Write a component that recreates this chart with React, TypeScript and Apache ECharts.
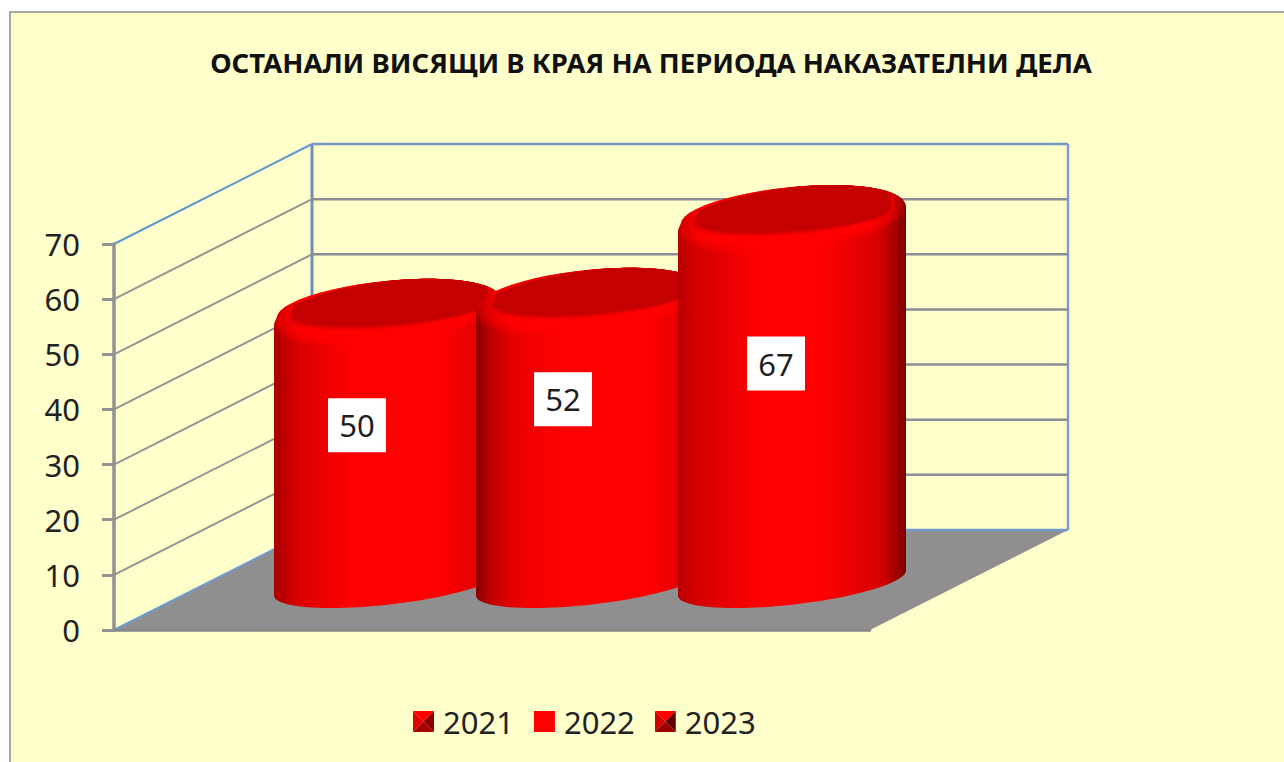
import React, { useEffect, useRef } from "react";
import * as echarts from "echarts";

const chartTitle = "ОСТАНАЛИ ВИСЯЩИ В КРАЯ НА ПЕРИОДА НАКАЗАТЕЛНИ ДЕЛА";
const categories = ["Наказателни дела"];
const years = ["2021", "2022", "2023"];
const values = [50, 52, 67];
const yTicks = [0, 10, 20, 30, 40, 50, 60, 70];

const FONT = "'Noto Sans', sans-serif";
const DEPTH_X = 198;
const DEPTH_Y = 100;
const SPACING_RATIO = 0.2672;
const MID_X = 98;
const MID_Y = 41;
const HALF_W = 114;
const labelDx = [-31, -27, -16];
const labelDy = [112, 97, 144];

const bodyStops = [
  [[0, "#a80000"], [0.1, "#d80000"], [0.34, "#ff0000"], [0.72, "#ff0000"], [0.92, "#e00000"], [1, "#c80000"]],
  [[0, "#8c0000"], [0.07, "#c00000"], [0.17, "#e80000"], [0.38, "#ff0000"], [0.75, "#ff0000"], [1, "#d00000"]],
  [[0, "#b80000"], [0.08, "#d40000"], [0.36, "#ff0000"], [0.62, "#ff0000"], [0.88, "#d80000"], [0.96, "#a00000"], [1, "#780000"]],
];
const capStops = [
  [[0, "#d80000"], [0.08, "#f80000"], [0.15, "#ff0000"], [0.85, "#ff0000"], [0.93, "#e80000"], [1, "#d00000"]],
  [[0, "#c80000"], [0.08, "#f00000"], [0.15, "#ff0000"], [0.85, "#ff0000"], [0.93, "#e80000"], [1, "#d00000"]],
  [[0, "#d80000"], [0.08, "#f80000"], [0.15, "#ff0000"], [0.85, "#ff0000"], [0.94, "#e00000"], [1, "#a00000"]],
];
const capLayers = [
  [34.5, 0.3],
  [33, 0.4],
  [31.5, 0.5],
  [30, 0.7],
  [28.5, 1],
];

const linear = (stops: any[]) => ({
  type: "linear", x: 0, y: 0, x2: 1, y2: 0, global: false,
  colorStops: stops.map(([offset, color]) => ({ offset, color })),
});

const pyramid = (a: string, b: string, c: string, d: string) =>
  "image://data:image/svg+xml;utf8," + encodeURIComponent(
    `<svg xmlns="http://www.w3.org/2000/svg" width="21" height="21"><polygon points="0,0 21,0 10.5,10.5" fill="${a}"/><polygon points="0,0 0,21 10.5,10.5" fill="${b}"/><polygon points="21,0 21,21 10.5,10.5" fill="${c}"/><polygon points="0,21 21,21 10.5,10.5" fill="${d}"/></svg>`
  );
const legendIcons = [
  pyramid("#ff0000", "#e00000", "#8c0000", "#a80000"),
  "rect",
  pyramid("#ff0000", "#d00000", "#600000", "#980000"),
];

function arc(cx: number, cy: number, X: number, Y: number, s: number, from: number, to: number, n = 48) {
  const phi = Math.asin(-s);
  const out: number[][] = [];
  for (let i = 0; i <= n; i++) {
    const t = from + ((to - from) * i) / n;
    out.push([cx + X * Math.cos(t), cy + Y * Math.sin(t + phi)]);
  }
  return out;
}

function wallItem(params: any, api: any) {
  const v = api.value(0);
  const [, y] = api.coord([0, v]);
  const cs = params.coordSys;
  const x0 = cs.x;
  const bx = x0 + DEPTH_X;
  const by = y - DEPTH_Y;
  const isTop = v === yTicks[yTicks.length - 1];
  const isBase = v === yTicks[0];
  const children: any[] = [];
  if (isBase) {
    children.push({
      type: "polygon",
      shape: { points: [[x0, y], [x0 + cs.width, y], [bx + cs.width, by], [bx, by]] },
      style: { fill: "#8f8f8f" },
    });
    const topY = cs.y - DEPTH_Y;
    children.push({ type: "line", shape: { x1: bx, y1: topY, x2: bx, y2: by }, style: { stroke: "#6f8fb8", lineWidth: 3 } });
    children.push({ type: "line", shape: { x1: bx + cs.width, y1: topY, x2: bx + cs.width, y2: by }, style: { stroke: "#7f9fca", lineWidth: 2.5 } });
  }
  children.push({
    type: "line",
    shape: { x1: x0, y1: y, x2: bx, y2: by },
    style: { stroke: isTop ? "#5f97d2" : isBase ? "#6f9bd0" : "#949494", lineWidth: 2 },
  });
  children.push({
    type: "line",
    shape: { x1: bx, y1: by, x2: bx + cs.width, y2: by },
    style: { stroke: isTop || isBase ? "#7399cc" : "#8b8e98", lineWidth: 2.5 },
  });
  return { type: "group", children };
}

function cylinderItem(index: number) {
  return (_params: any, api: any) => {
    const band = api.size([1, 0])[0];
    const [mx, vy] = api.coord([0, api.value(1)]);
    const [, y0] = api.coord([0, 0]);
    const cx = mx + MID_X + (index - 1) * band * SPACING_RATIO;
    const topY = vy - MID_Y;
    const botY = y0 - 47;
    const capY = 34.5;
    const capS = 0.36;
    const body = [
      ...arc(cx, topY, HALF_W, capY, capS, Math.PI, 2 * Math.PI),
      ...arc(cx, botY, HALF_W, 25, 0.5, 0, Math.PI),
    ];
    // Dark cap: the silhouette's upper edge, closed by its own lower curve.
    const capUpper = arc(cx, topY, HALF_W, capY, capS, Math.PI + 0.6, 2 * Math.PI - 0.5);
    const dark = (Y: number, grow: number) => [
      ...capUpper,
      ...arc(cx + 1, topY - 4, 97 + grow, Y, 0.42, 0, Math.PI),
    ];
    const lx = cx + labelDx[index];
    const ly = topY + labelDy[index];
    return {
      type: "group",
      children: [
        { type: "polygon", shape: { points: body }, style: { fill: linear(bodyStops[index]) } },
        ...capLayers.map(([Y, alpha]) => ({
          type: "polygon",
          shape: { points: arc(cx, topY - (capY - Y), HALF_W - (capY - Y) * 0.5, Y, capS, 0, 2 * Math.PI) },
          style: { fill: linear(capStops[index]), opacity: alpha },
        })),
        { type: "polygon", shape: { points: dark(21, 5) }, style: { fill: "#ee0000" } },
        { type: "polygon", shape: { points: dark(19, 2.5) }, style: { fill: "#d80000" } },
        { type: "polygon", shape: { points: dark(17, 0) }, style: { fill: "#c40000" } },
        { type: "rect", shape: { x: lx - 29, y: ly - 27, width: 58, height: 54 }, style: { fill: "#ffffff" } },
        {
          type: "text",
          x: lx,
          y: ly,
          style: { text: String(api.value(1)), fill: "#1f1f1f", font: `31px ${FONT}`, align: "center", verticalAlign: "middle" },
        },
      ],
    };
  };
}

export default function App() {
  const ref = useRef<HTMLDivElement>(null);
  useEffect(() => {
    const chart = echarts.init(ref.current!, undefined, { renderer: "svg" });
    chart.setOption({
      animation: false,
      backgroundColor: "#ffffff",
      textStyle: { fontFamily: FONT },
      title: {
        text: chartTitle,
        left: 646,
        top: 43,
        textAlign: "center",
        textStyle: { fontFamily: FONT, fontWeight: "bold", fontSize: 27.5, color: "#111111" },
      },
      graphic: [
        {
          type: "rect",
          silent: true,
          shape: { x: 10, y: 12, width: 1300, height: 780 },
          style: { fill: "#ffffcc", stroke: "#8c8c8c", lineWidth: 1.5 },
          z: -10,
        },
      ],
      legend: {
        left: 413,
        top: 706,
        padding: 0,
        itemWidth: 21,
        itemHeight: 21,
        itemGap: 20,
        selectedMode: false,
        data: years.map((name, i) => ({ name, icon: legendIcons[i] })),
        textStyle: { fontFamily: FONT, fontSize: 31, color: "#222222", padding: [0, 0, 0, 4] },
      },
      grid: { left: 114, top: 244, width: 756, height: 386, containLabel: false },
      xAxis: {
        type: "category",
        data: categories,
        z: 5,
        axisLine: { lineStyle: { color: "#878787", width: 2.5 } },
        axisTick: { show: false },
        axisLabel: { show: false },
      },
      yAxis: {
        type: "value",
        min: 0,
        max: 70,
        interval: 10,
        z: 5,
        splitLine: { show: false },
        axisLine: { show: true, lineStyle: { color: "#929292", width: 3.5 } },
        axisTick: { show: true, length: 12, lineStyle: { color: "#929292", width: 3 } },
        axisLabel: { fontFamily: FONT, fontSize: 31, color: "#222222", margin: 34 },
      },
      series: [
        {
          type: "custom",
          name: "walls",
          z: 1,
          silent: true,
          clip: false,
          renderItem: wallItem,
          encode: { y: 0 },
          data: yTicks.map((v) => [v]),
        },
        ...years.map((name, i) => ({
          type: "custom",
          name,
          z: 2 + i,
          clip: false,
          silent: true,
          itemStyle: { color: "#ff0000" },
          renderItem: cylinderItem(i),
          encode: { x: 0, y: 1 },
          data: [[0, values[i]]],
        })),
      ],
    });
    return () => chart.dispose();
  }, []);
  return <div ref={ref} style={{ position: "absolute", left: 0, top: 0, width: 1284, height: 762 }} />;
}
